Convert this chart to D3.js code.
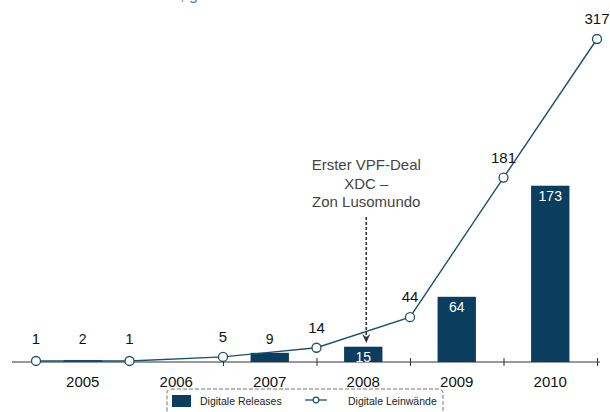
<!DOCTYPE html>
<html>
<head>
<meta charset="utf-8">
<script src="https://cdn.jsdelivr.net/npm/d3@7"></script>
<style>
  body { margin: 0; background: #fff; }
  svg { display: block; font-family: "Liberation Sans", Arial, sans-serif; }
</style>
</head>
<body>
<svg id="chart" width="610" height="412"></svg>
<script>
// data
var years = ["2005", "2006", "2007", "2008", "2009", "2010"];
var releases = [2, 0, 9, 15, 64, 173];          // Digitale Releases (bars)
var screens = [1, 1, 5, 14, 44, 181, 317];      // Digitale Leinwände (line, at year boundaries)
var legendLabels = ["Digitale Releases", "Digitale Leinwände"];
var noteLines = ["Erster VPF-Deal", "XDC \u2013", "Zon Lusomundo"];

var barColor = "#0a3d5e";
var lineColor = "#1d4f70";

var svg = d3.select("#chart");

// scales
var x = d3.scaleBand(years, [36, 597]).paddingInner(0.59).paddingOuter(0.295);
var xEdge = d3.scaleLinear([0, years.length], [36, 597]);
var y = d3.scaleLinear([0, 317], [362, 39]);

// title, cut off at the top edge as in the original slide
svg.append("text")
  .attr("x", 140)
  .attr("y", 0)
  .attr("font-size", 16)
  .attr("fill", "#5a7fc4")
  .text("Kinos, gesamt");

// bars
svg.append("g")
  .selectAll("rect")
  .data(releases.map((v, i) => ({year: years[i], value: v})).filter(d => d.value > 0))
  .enter()
  .append("rect")
  .attr("x", d => x(d.year))
  .attr("width", x.bandwidth())
  .attr("y", d => y(d.value))
  .attr("height", d => y(0) - y(d.value))
  .attr("fill", barColor);

// x axis
var axis = d3.axisBottom(xEdge)
  .tickValues(d3.range(0, years.length + 1))
  .tickSize(4)
  .tickFormat("");
var axisG = svg.append("g")
  .attr("transform", "translate(0," + y(0) + ")")
  .call(axis);
axisG.select(".domain").remove();
axisG.selectAll(".tick line").attr("y1", -4).attr("stroke", "#333");
svg.append("line")
  .attr("x1", 12).attr("x2", 600)
  .attr("y1", y(0)).attr("y2", y(0))
  .attr("stroke", "#333").attr("stroke-width", 1);

svg.append("g")
  .selectAll("text")
  .data(years)
  .enter()
  .append("text")
  .attr("x", d => x(d) + x.bandwidth() / 2)
  .attr("y", 387)
  .attr("text-anchor", "middle")
  .attr("font-size", 15)
  .attr("fill", "#111")
  .text(d => d);

// bar labels
svg.append("g")
  .selectAll("text")
  .data(releases.map((v, i) => ({year: years[i], value: v})).filter(d => d.value > 0))
  .enter()
  .append("text")
  .attr("x", d => x(d.year) + x.bandwidth() / 2)
  .attr("y", d => d.value >= 15 ? y(d.value) + 15 : 344)
  .attr("text-anchor", "middle")
  .attr("font-size", 14)
  .attr("fill", d => d.value >= 15 ? "#fff" : "#111")
  .text(d => d.value);

// line
var line = d3.line()
  .x((d, i) => xEdge(i))
  .y(d => y(d));

svg.append("path")
  .datum(screens)
  .attr("d", line)
  .attr("fill", "none")
  .attr("stroke", lineColor)
  .attr("stroke-width", 1.4);

svg.append("g")
  .selectAll("circle")
  .data(screens)
  .enter()
  .append("circle")
  .attr("cx", (d, i) => xEdge(i))
  .attr("cy", d => y(d))
  .attr("r", 4.5)
  .attr("fill", "#fff")
  .attr("stroke", lineColor)
  .attr("stroke-width", 1.3);

svg.append("g")
  .selectAll("text")
  .data(screens)
  .enter()
  .append("text")
  .attr("x", (d, i) => xEdge(i))
  .attr("y", d => Math.min(y(d) - 15, 344))
  .attr("text-anchor", "middle")
  .attr("font-size", 15)
  .attr("fill", "#111")
  .text(d => d);

// annotation
var noteX = x("2008") + x.bandwidth() / 2 + 3;
svg.append("g")
  .selectAll("text")
  .data(noteLines)
  .enter()
  .append("text")
  .attr("x", noteX)
  .attr("y", (d, i) => 170 + i * 18.5)
  .attr("text-anchor", "middle")
  .attr("font-size", 15)
  .attr("fill", "#444")
  .text(d => d);

svg.append("line")
  .attr("x1", noteX).attr("x2", noteX)
  .attr("y1", 217).attr("y2", 338)
  .attr("stroke", "#333")
  .attr("stroke-width", 1.6)
  .attr("stroke-dasharray", "3,2");
svg.append("path")
  .attr("d", "M" + (noteX - 4) + ",334 L" + noteX + ",343 L" + (noteX + 4) + ",334 L" + noteX + ",337 Z")
  .attr("fill", "#333");

// legend
var legend = svg.append("g");
legend.append("rect")
  .attr("x", 167).attr("y", 389)
  .attr("width", 276).attr("height", 40)
  .attr("rx", 4)
  .attr("fill", "#fff")
  .attr("stroke", "#777")
  .attr("stroke-dasharray", "4,2");
legend.append("rect")
  .attr("x", 172).attr("y", 395)
  .attr("width", 19).attr("height", 12)
  .attr("fill", barColor);
legend.append("text")
  .attr("x", 200).attr("y", 405)
  .attr("font-size", 10.5)
  .attr("fill", "#222")
  .text(legendLabels[0]);
legend.append("line")
  .attr("x1", 305).attr("x2", 327)
  .attr("y1", 400).attr("y2", 400)
  .attr("stroke", lineColor).attr("stroke-width", 1.3);
legend.append("circle")
  .attr("cx", 316).attr("cy", 400).attr("r", 2.8)
  .attr("fill", "#fff").attr("stroke", lineColor).attr("stroke-width", 1.2);
legend.append("text")
  .attr("x", 348).attr("y", 405)
  .attr("font-size", 10.5)
  .attr("fill", "#222")
  .text(legendLabels[1]);
</script>
</body>
</html>
